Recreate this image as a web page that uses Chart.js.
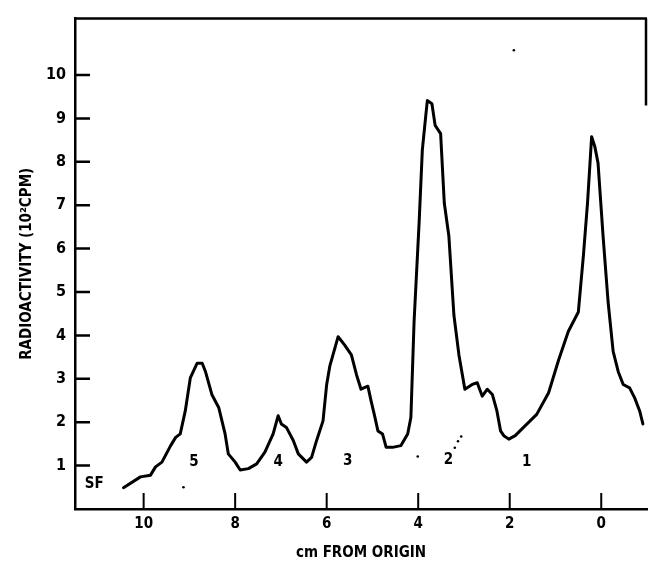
<!DOCTYPE html>
<html>
<head>
<meta charset="utf-8">
<script src="https://cdn.jsdelivr.net/npm/chart.js@4"></script>
<style>
  body { margin: 0; background: #fff; }
  #wrap { width: 651px; height: 563px; position: relative; }
</style>
</head>
<body>
<div id="wrap"><canvas id="scanChart"></canvas></div>
<script>
// distance from origin (cm) and radioactivity (10^2 CPM)
const posCm = [10.44, 10.07, 9.85, 9.74, 9.6, 9.41, 9.3, 9.2, 9.09, 8.98, 8.83, 8.72, 8.65, 8.51, 8.36,
  8.22, 8.15, 8.0, 7.89, 7.71, 7.53, 7.35, 7.17, 7.06, 6.99, 6.88, 6.73, 6.62, 6.44, 6.33, 6.22, 6.08,
  6.0, 5.93, 5.75, 5.61, 5.46, 5.35, 5.25, 5.1, 5.03, 4.96, 4.88, 4.78, 4.7, 4.56, 4.38, 4.23, 4.16,
  4.09, 3.98, 3.91, 3.83, 3.8, 3.7, 3.63, 3.51, 3.43, 3.33, 3.22, 3.11, 2.98, 2.82, 2.71, 2.6, 2.49,
  2.38, 2.28, 2.2, 2.13, 2.02, 1.88, 1.66, 1.41, 1.15, 0.93, 0.72, 0.5, 0.39, 0.3, 0.21, 0.14, 0.07,
  -0.04, -0.15, -0.26, -0.37, -0.48, -0.62, -0.73, -0.84, -0.91];
const counts = [0.49, 0.74, 0.78, 0.97, 1.08, 1.46, 1.65, 1.73, 2.26, 3.02, 3.36, 3.36, 3.17, 2.64, 2.34,
  1.73, 1.27, 1.08, 0.9, 0.93, 1.04, 1.31, 1.73, 2.15, 1.96, 1.88, 1.58, 1.27, 1.08, 1.19, 1.58, 2.03,
  2.87, 3.3, 3.97, 3.78, 3.55, 3.1, 2.76, 2.83, 2.49, 2.18, 1.8, 1.73, 1.42, 1.42, 1.46, 1.73, 2.11,
  4.32, 6.6, 8.27, 9.11, 9.41, 9.34, 8.84, 8.65, 7.05, 6.29, 4.47, 3.55, 2.76, 2.87, 2.91, 2.6, 2.76,
  2.64, 2.26, 1.8, 1.69, 1.61, 1.69, 1.92, 2.18, 2.68, 3.44, 4.09, 4.54, 5.84, 7.05, 8.58, 8.35, 7.97,
  6.29, 4.77, 3.63, 3.17, 2.87, 2.79, 2.56, 2.26, 1.96];

// peak numbers and the solvent front mark
const peakLabels = ["SF", "5", "4", "3", "2", "1"];
const peakLabelX = [11.08, 8.9, 7.06, 5.54, 3.34, 1.63];
const peakLabelY = [0.57, 1.08, 1.08, 1.1, 1.12, 1.08];

// stray specks on the original scan
const speckX = [9.13, 4.01, 3.2, 3.13, 3.06, 1.91];
const speckY = [0.5, 1.21, 1.41, 1.56, 1.67, 10.57];

const xTicks = [10, 8, 6, 4, 2, 0];
const yTicks = [1, 2, 3, 4, 5, 6, 7, 8, 9, 10];

const FONT = "'Liberation Sans Narrow', 'DejaVu Sans Condensed', sans-serif";

const framePlugin = {
  id: "framePlugin",
  afterDraw(chart) {
    const { ctx, chartArea, scales } = chart;
    const xs = scales.x, ys = scales.y;
    ctx.save();
    ctx.strokeStyle = "#000";
    ctx.lineWidth = 2.5;
    // top border and short piece of the right border
    ctx.beginPath();
    ctx.moveTo(chartArea.left, chartArea.top);
    ctx.lineTo(chartArea.right, chartArea.top);
    ctx.moveTo(chartArea.right - 1, chartArea.top);
    ctx.lineTo(chartArea.right - 1, ys.getPixelForValue(9.3));
    ctx.stroke();
    // inward tick marks
    ctx.lineWidth = 2.5;
    ctx.beginPath();
    yTicks.forEach(v => {
      const py = ys.getPixelForValue(v);
      ctx.moveTo(chartArea.left, py);
      ctx.lineTo(chartArea.left + 15, py);
    });
    ctx.stroke();
    ctx.lineWidth = 2;
    ctx.beginPath();
    xTicks.forEach(v => {
      const px = xs.getPixelForValue(v);
      ctx.moveTo(px, chartArea.bottom);
      ctx.lineTo(px, chartArea.bottom - 16);
    });
    ctx.stroke();
    // peak labels
    ctx.fillStyle = "#000";
    ctx.font = "bold 15px " + FONT;
    ctx.textAlign = "center";
    ctx.textBaseline = "middle";
    peakLabels.forEach((t, i) => {
      ctx.fillText(t, xs.getPixelForValue(peakLabelX[i]), ys.getPixelForValue(peakLabelY[i]));
    });
    ctx.restore();
  }
};

const ctx = document.getElementById("scanChart").getContext("2d");
new Chart(ctx, {
  type: "scatter",
  data: {
    datasets: [
      {
        data: posCm.map((x, i) => ({ x: x, y: counts[i] })),
        showLine: true,
        borderColor: "#000",
        borderWidth: 3,
        borderJoinStyle: "round",
        borderCapStyle: "round",
        pointRadius: 0,
        tension: 0
      },
      {
        data: speckX.map((x, i) => ({ x: x, y: speckY[i] })),
        pointRadius: 1.3,
        pointBackgroundColor: "#000",
        pointBorderWidth: 0
      }
    ]
  },
  options: {
    responsive: true,
    maintainAspectRatio: false,
    animation: false,
    layout: { padding: { top: 14, right: 1, left: 0, bottom: 0 } },
    plugins: {
      legend: { display: false },
      tooltip: { enabled: false }
    },
    scales: {
      x: {
        type: "linear",
        reverse: true,
        min: -1.0,
        max: 11.5,
        afterBuildTicks: s => { s.ticks = xTicks.map(v => ({ value: v })); },
        afterFit: s => { s.height = 54; },
        grid: { display: false, drawTicks: false },
        border: { display: true, color: "#000", width: 2.5 },
        ticks: {
          color: "#000",
          padding: 6,
          font: { family: FONT, size: 15, weight: "bold" }
        },
        title: {
          display: true,
          text: "cm FROM ORIGIN",
          color: "#000",
          padding: { top: 0, bottom: 1 },
          font: { family: FONT, size: 15, weight: "bold" }
        }
      },
      y: {
        min: 0,
        max: 11.3,
        afterBuildTicks: s => { s.ticks = yTicks.map(v => ({ value: v })); },
        afterFit: s => { s.width = 75; },
        grid: { display: false, drawTicks: false },
        border: { display: true, color: "#000", width: 2.5 },
        ticks: {
          color: "#000",
          padding: 9,
          font: { family: FONT, size: 16, weight: "bold" }
        },
        title: {
          display: true,
          text: "RADIOACTIVITY (10\u00B2CPM)",
          color: "#000",
          padding: { top: 18, bottom: 0 },
          font: { family: FONT, size: 15, weight: "bold" }
        }
      }
    }
  },
  plugins: [framePlugin]
});
</script>
</body>
</html>
